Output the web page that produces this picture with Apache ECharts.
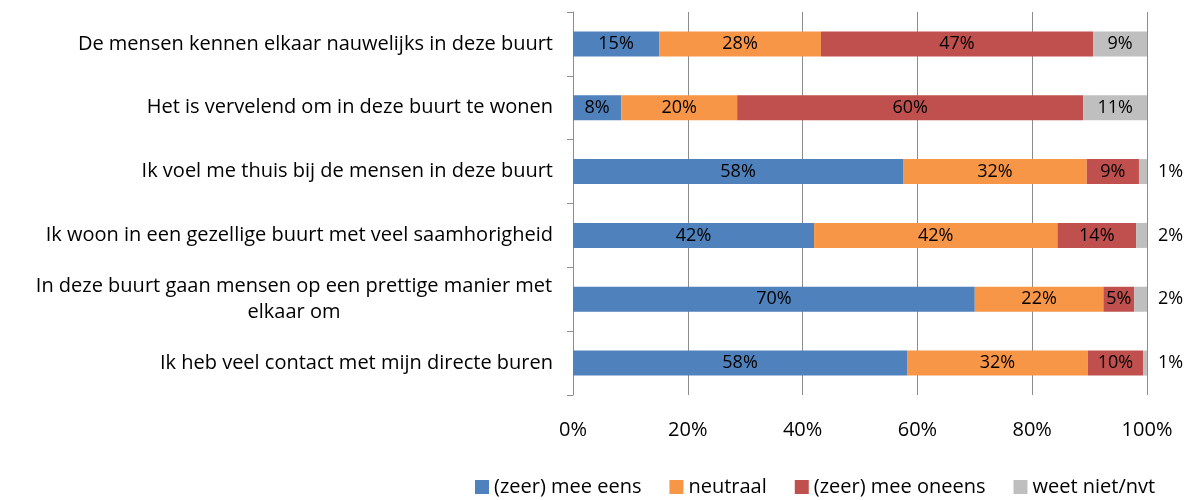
<!DOCTYPE html>
<html><head><meta charset="utf-8">
<script src="https://cdn.jsdelivr.net/npm/echarts@6/dist/echarts.min.js"></script>
<style>html,body{margin:0;padding:0;background:#fff}#c{width:1194px;height:500px}</style>
</head><body><div id="c"></div>
<script>
const categories = [
  "De mensen kennen elkaar nauwelijks in deze buurt",
  "Het is vervelend om in deze buurt te wonen",
  "Ik voel me thuis bij de mensen in deze buurt",
  "Ik woon in een gezellige buurt met veel saamhorigheid",
  "In deze buurt gaan mensen op een prettige manier met\nelkaar om",
  "Ik heb veel contact met mijn directe buren"
];
const seriesNames = ["(zeer) mee eens", "neutraal", "(zeer) mee oneens", "weet niet/nvt"];
const meeEens   = [15.0, 8.4, 57.5, 42.0, 70.0, 58.2];
const neutraal  = [28.2, 20.2, 32.0, 42.4, 22.4, 31.5];
const meeOneens = [47.4, 60.3, 9.1, 13.7, 5.4, 9.6];
const weetNiet  = [9.4, 11.1, 1.4, 1.9, 2.2, 0.7];
const xTicks = [0, 20, 40, 60, 80, 100];

const FONT = "Open Sans";
const CAT_SIZE = 20;
const colors = ["#4F81BD", "#F79646", "#C0504D", "#BFBFBF"];

// measure widest line of multi-line labels so lines centre within it
const ctx = document.createElement('canvas').getContext('2d');
ctx.font = CAT_SIZE + 'px "' + FONT + '"';
function wrapWidth(v) {
  return Math.ceil(Math.max.apply(null, v.split('\n').map(s => ctx.measureText(s).width))) + 1;
}

const chart = echarts.init(document.getElementById('c'));

function labelCfg() {
  return { show: true, position: 'inside', color: '#000', fontFamily: FONT, fontSize: 18,
           formatter: p => Math.round(p.value) + '%' };
}
function mk(i, arr) {
  return {
    name: seriesNames[i], type: 'bar', stack: 'a', barWidth: 25,
    itemStyle: { color: colors[i] },
    label: labelCfg(),
    data: arr.map(v => v)
  };
}
const greySeries = mk(3, weetNiet);
greySeries.data = weetNiet.map(v => v < 5 ? { value: v, label: { position: 'right', distance: 11, fontSize: 18 } } : v);

const richW = Math.max.apply(null, categories.filter(c => c.indexOf('\n') >= 0).map(wrapWidth));

chart.setOption({
  animation: false,
  textStyle: { fontFamily: FONT },
  grid: { left: 573, right: 47, top: 12, bottom: 105 },
  xAxis: {
    type: 'value', min: 0, max: 100, interval: 20,
    axisLine: { show: false }, axisTick: { show: false },
    axisLabel: { formatter: '{value}%', color: '#000', fontSize: 20, fontFamily: FONT, margin: 25 },
    splitLine: { lineStyle: { color: '#8C8C8C', width: 1 } }
  },
  yAxis: {
    type: 'category', data: categories, inverse: true,
    axisLine: { lineStyle: { color: '#8C8C8C' } },
    axisTick: { show: true, length: 6, lineStyle: { color: '#8C8C8C' } },
    axisLabel: { color: '#000', fontSize: CAT_SIZE, fontFamily: FONT, margin: 20, lineHeight: 26,
      formatter: v => v.indexOf('\n') >= 0 ? v.split('\n').map(s => '{c|' + s + '}').join('\n') : v,
      rich: { c: { width: richW, align: 'center', fontSize: CAT_SIZE, fontFamily: FONT, color: '#000', lineHeight: 26 } } }
  },
  legend: {
    data: seriesNames, left: 470, bottom: -2, itemWidth: 14, itemHeight: 14, itemGap: 28, itemTextGap: 4,
    icon: 'rect', textStyle: { fontSize: 20, fontFamily: FONT, color: '#000' }
  },
  series: [mk(0, meeEens), mk(1, neutraal), mk(2, meeOneens), greySeries]
});
</script></body></html>
